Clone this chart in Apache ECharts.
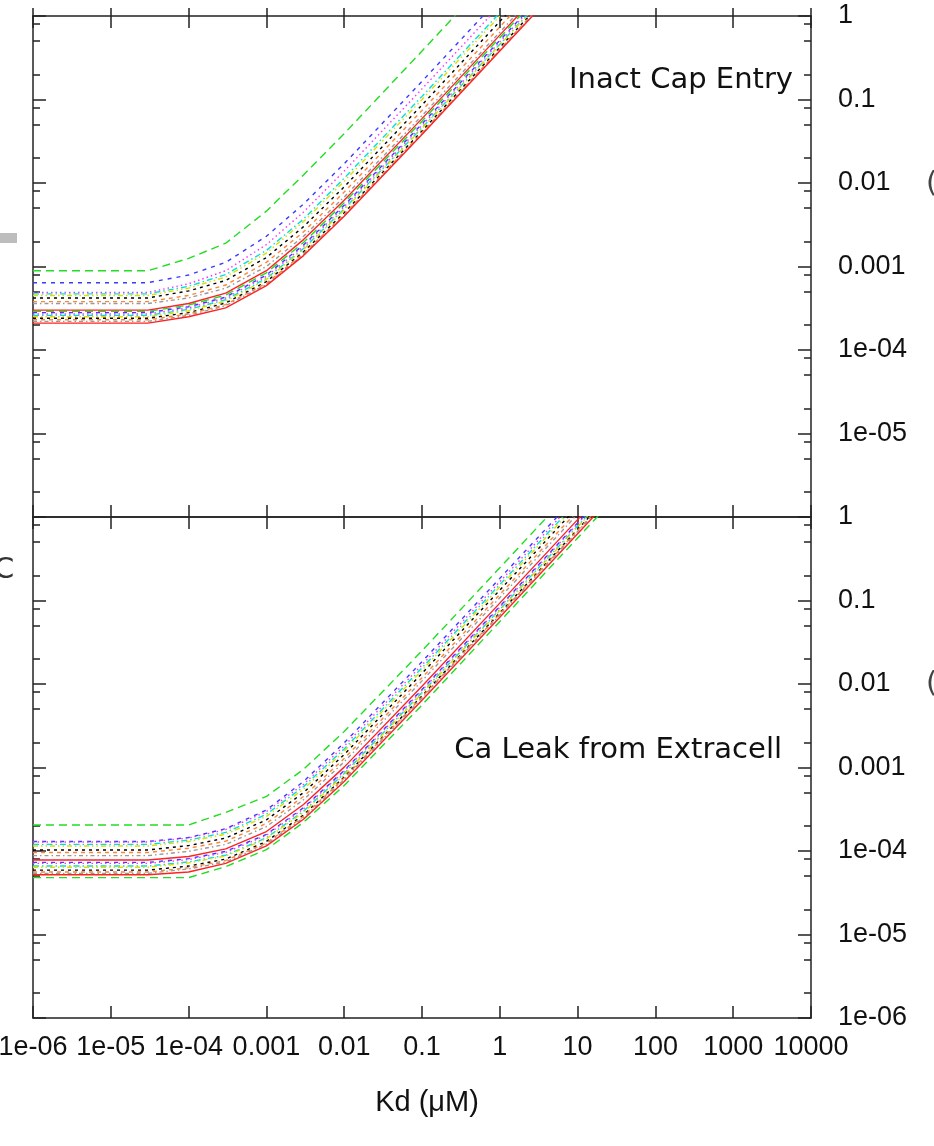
<!DOCTYPE html>
<html>
<head>
<meta charset="utf-8">
<script src="https://cdn.jsdelivr.net/npm/echarts@6/dist/echarts.min.js"></script>
<style>
html,body{margin:0;padding:0;background:#fff;}
#chart{position:absolute;left:0;top:0;width:934px;height:1146px;}
</style>
</head>
<body>
<div id="chart"></div>
<script>
// ---- data ----
const kd = [1e-6, 3e-5, 1e-4, 3e-4, 1e-3, 3e-3, 0.01, 0.1, 1, 10, 100];

const xTickVals = [1e-6, 1e-5, 1e-4, 1e-3, 1e-2, 0.1, 1, 10, 100, 1000, 10000];
const xTickLabels = ['1e-06', '1e-05', '1e-04', '0.001', '0.01', '0.1', '1', '10', '100', '1000', '10000'];
const yTickVals = [1e-6, 1e-5, 1e-4, 1e-3, 1e-2, 0.1, 1];
const yTickLabels = ['1e-06', '1e-05', '1e-04', '0.001', '0.01', '0.1', '1'];
const yMinorVals = [2e-6, 5e-6, 8e-6, 2e-5, 5e-5, 8e-5, 2e-4, 5e-4, 8e-4, 2e-3, 5e-3, 8e-3, 0.02, 0.05, 0.08, 0.2, 0.5, 0.8];

const panelTitles = ['Inact Cap Entry', 'Ca Leak from Extracell'];
const xTitle = 'Kd (\u03bcM)';

// top panel (Inact Cap Entry)
const topGreenA   = [8.9e-4, 8.9e-4, 1.25e-3, 1.9e-3, 4.6e-3, 1.25e-2, 0.039, 0.38, 3.8, 38, 380];
const topBlueA    = [6.4e-4, 6.4e-4, 7.9e-4, 1.12e-3, 2.3e-3, 5.6e-3, 0.017, 0.165, 1.65, 16.5, 165];
const topMagentaA = [4.9e-4, 4.9e-4, 6.2e-4, 8.9e-4, 1.83e-3, 4.5e-3, 0.0139, 0.134, 1.34, 13.4, 134];
const topCyanA    = [4.7e-4, 4.7e-4, 5.8e-4, 8.0e-4, 1.56e-3, 3.7e-3, 0.0114, 0.109, 1.09, 10.9, 109];
const topYellowA  = [4.5e-4, 4.5e-4, 5.5e-4, 7.5e-4, 1.45e-3, 3.45e-3, 0.0105, 0.10, 1.0, 10, 100];
const topBlackA   = [4.2e-4, 4.2e-4, 5.1e-4, 6.8e-4, 1.28e-3, 3.0e-3, 9.0e-3, 0.086, 0.86, 8.6, 86];
const topOrangeA  = [3.8e-4, 3.8e-4, 4.5e-4, 6.0e-4, 1.12e-3, 2.6e-3, 7.8e-3, 0.074, 0.74, 7.4, 74];
const topGreyA    = [3.6e-4, 3.6e-4, 4.2e-4, 5.5e-4, 1.0e-3, 2.3e-3, 6.8e-3, 0.064, 0.64, 6.4, 64];
const topRedA     = [3.0e-4, 3.0e-4, 3.6e-4, 4.8e-4, 8.9e-4, 2.1e-3, 6.2e-3, 0.059, 0.59, 5.9, 59];
const topGreenB   = [2.9e-4, 2.9e-4, 3.45e-4, 4.55e-4, 8.4e-4, 1.94e-3, 5.8e-3, 0.055, 0.55, 5.5, 55];
const topBlueB    = [2.8e-4, 2.8e-4, 3.3e-4, 4.3e-4, 7.9e-4, 1.81e-3, 5.4e-3, 0.051, 0.51, 5.1, 51];
const topMagentaB = [2.7e-4, 2.7e-4, 3.2e-4, 4.2e-4, 7.6e-4, 1.74e-3, 5.2e-3, 0.049, 0.49, 4.9, 49];
const topCyanB    = [2.6e-4, 2.6e-4, 3.06e-4, 4.0e-4, 7.2e-4, 1.64e-3, 4.9e-3, 0.046, 0.46, 4.6, 46];
const topYellowB  = [2.5e-4, 2.5e-4, 2.95e-4, 3.85e-4, 7.0e-4, 1.6e-3, 4.75e-3, 0.045, 0.45, 4.5, 45];
const topBlackB   = [2.4e-4, 2.4e-4, 2.8e-4, 3.66e-4, 6.6e-4, 1.5e-3, 4.4e-3, 0.042, 0.42, 4.2, 42];
const topOrangeB  = [2.3e-4, 2.3e-4, 2.7e-4, 3.5e-4, 6.3e-4, 1.43e-3, 4.2e-3, 0.040, 0.40, 4.0, 40];
const topGreyB    = [2.2e-4, 2.2e-4, 2.6e-4, 3.4e-4, 6.1e-4, 1.39e-3, 4.1e-3, 0.039, 0.39, 3.9, 39];
const topRedB     = [2.1e-4, 2.1e-4, 2.5e-4, 3.2e-4, 5.9e-4, 1.35e-3, 4.0e-3, 0.038, 0.38, 3.8, 38];

// bottom panel (Ca Leak from Extracell)
const botGreenA   = [2.05e-4, 2.05e-4, 2.05e-4, 2.9e-4, 4.5e-4, 9.5e-4, 2.7e-3, 0.025, 0.247, 2.47, 24.7];
const botBlueA    = [1.3e-4, 1.3e-4, 1.45e-4, 1.85e-4, 3.1e-4, 6.8e-4, 1.97e-3, 0.0185, 0.184, 1.84, 18.4];
const botMagentaA = [1.28e-4, 1.28e-4, 1.43e-4, 1.8e-4, 2.96e-4, 6.3e-4, 1.81e-3, 0.0169, 0.168, 1.68, 16.8];
const botCyanA    = [1.2e-4, 1.2e-4, 1.35e-4, 1.67e-4, 2.75e-4, 5.9e-4, 1.67e-3, 0.0156, 0.155, 1.55, 15.5];
const botYellowA  = [1.15e-4, 1.15e-4, 1.3e-4, 1.59e-4, 2.6e-4, 5.5e-4, 1.57e-3, 0.0146, 0.145, 1.45, 14.5];
const botBlackA   = [1.03e-4, 1.03e-4, 1.16e-4, 1.43e-4, 2.36e-4, 5.0e-4, 1.43e-3, 0.0134, 0.133, 1.33, 13.3];
const botOrangeA  = [9.6e-5, 9.6e-5, 1.08e-4, 1.31e-4, 2.14e-4, 4.5e-4, 1.28e-3, 0.0119, 0.118, 1.18, 11.8];
const botGreyA    = [8.8e-5, 8.8e-5, 9.9e-5, 1.2e-4, 1.96e-4, 4.1e-4, 1.17e-3, 0.0109, 0.108, 1.08, 10.8];
const botRedA     = [7.8e-5, 7.8e-5, 8.6e-5, 1.06e-4, 1.71e-4, 3.6e-4, 1.01e-3, 9.4e-3, 0.093, 0.93, 9.3];
const botGreenB   = [4.8e-5, 4.8e-5, 4.8e-5, 6.5e-5, 1.04e-4, 2.2e-4, 6.1e-4, 5.6e-3, 0.056, 0.56, 5.6];
const botBlueB    = [7.3e-5, 7.3e-5, 8.1e-5, 9.9e-5, 1.58e-4, 3.3e-4, 9.2e-4, 8.6e-3, 0.085, 0.85, 8.5];
const botMagentaB = [7.1e-5, 7.1e-5, 7.9e-5, 9.6e-5, 1.54e-4, 3.2e-4, 9.0e-4, 8.4e-3, 0.083, 0.83, 8.3];
const botCyanB    = [6.6e-5, 6.6e-5, 7.4e-5, 8.9e-5, 1.44e-4, 3.0e-4, 8.5e-4, 7.9e-3, 0.078, 0.78, 7.8];
const botYellowB  = [6.4e-5, 6.4e-5, 7.2e-5, 8.7e-5, 1.4e-4, 2.9e-4, 8.2e-4, 7.7e-3, 0.076, 0.76, 7.6];
const botBlackB   = [5.9e-5, 5.9e-5, 6.6e-5, 8.0e-5, 1.3e-4, 2.7e-4, 7.7e-4, 7.2e-3, 0.071, 0.71, 7.1];
const botOrangeB  = [5.6e-5, 5.6e-5, 6.3e-5, 7.7e-5, 1.25e-4, 2.6e-4, 7.5e-4, 7.0e-3, 0.069, 0.69, 6.9];
const botGreyB    = [5.4e-5, 5.4e-5, 6.1e-5, 7.4e-5, 1.21e-4, 2.5e-4, 7.2e-4, 6.8e-3, 0.067, 0.67, 6.7];
const botRedB     = [5.2e-5, 5.2e-5, 5.6e-5, 7.1e-5, 1.15e-4, 2.4e-4, 6.8e-4, 6.4e-3, 0.063, 0.63, 6.3];

// ---- styles (separate from data) ----
const ST = {
  red:     {c: '#ff2222', d: 'solid'},
  green:   {c: '#22dd22', d: [8, 5]},
  blue:    {c: '#3b3bff', d: [4, 5]},
  magenta: {c: '#ff30ff', d: [1.5, 3]},
  cyan:    {c: '#00e0e0', d: [6, 3, 1.5, 3]},
  yellow:  {c: '#dede00', d: [5, 3, 1.5, 3, 1.5, 3]},
  black:   {c: '#000000', d: [3, 4]},
  orange:  {c: '#ff8533', d: [4, 4]},
  grey:    {c: '#999999', d: [4, 3, 1.5, 3]}
};
const LINE_W = 1.4;

const topSet = [
  [topGreenA, 'green'], [topBlueA, 'blue'], [topMagentaA, 'magenta'], [topCyanA, 'cyan'],
  [topYellowA, 'yellow'], [topBlackA, 'black'], [topOrangeA, 'orange'], [topGreyA, 'grey'],
  [topGreenB, 'green'], [topBlueB, 'blue'], [topMagentaB, 'magenta'], [topCyanB, 'cyan'],
  [topYellowB, 'yellow'], [topBlackB, 'black'], [topOrangeB, 'orange'], [topGreyB, 'grey'],
  [topRedA, 'red'], [topRedB, 'red']
];
const botSet = [
  [botGreenA, 'green'], [botBlueA, 'blue'], [botMagentaA, 'magenta'], [botCyanA, 'cyan'],
  [botYellowA, 'yellow'], [botBlackA, 'black'], [botOrangeA, 'orange'], [botGreyA, 'grey'],
  [botGreenB, 'green'], [botBlueB, 'blue'], [botMagentaB, 'magenta'], [botCyanB, 'cyan'],
  [botYellowB, 'yellow'], [botBlackB, 'black'], [botOrangeB, 'orange'], [botGreyB, 'grey'],
  [botRedA, 'red'], [botRedB, 'red']
];

function mkSeries(vals, key, xi, yi) {
  const s = ST[key];
  return {
    type: 'line', xAxisIndex: xi, yAxisIndex: yi,
    data: kd.map((k, i) => [k, vals[i]]),
    showSymbol: false, symbol: 'none', clip: true, silent: true,
    lineStyle: {color: s.c, width: LINE_W, type: s.d},
    z: key === 'red' ? 3 : 2
  };
}

function fmt(vals, labels) {
  return function (v) {
    for (let i = 0; i < vals.length; i++) {
      if (Math.abs(Math.log10(v) - Math.log10(vals[i])) < 1e-6) return labels[i];
    }
    return '';
  };
}

const AX = '#222';
const LBL = {fontFamily: 'Liberation Sans', fontSize: 27, color: '#111'};

function xAx(grid, pos, opts) {
  return Object.assign({
    type: 'log', logBase: 10, gridIndex: grid, position: pos, min: 1e-6, max: 1e4,
    axisLine: {show: true, onZero: false, lineStyle: {color: AX, width: 1.5}},
    axisTick: {show: true, inside: true, length: 12, customValues: xTickVals, lineStyle: {color: AX, width: 1.5}},
    axisLabel: {show: false},
    splitLine: {show: false}, minorTick: {show: false}
  }, opts || {});
}
function yAx(grid, pos, ticks, len, showLine, labels) {
  return {
    type: 'log', logBase: 10, gridIndex: grid, position: pos, min: 1e-6, max: 1,
    axisLine: {show: showLine, onZero: false, lineStyle: {color: AX, width: 1.5}},
    axisTick: {show: true, inside: true, length: len, customValues: ticks, lineStyle: {color: AX, width: 1.5}},
    axisLabel: labels ? Object.assign({show: true, customValues: labels, margin: 27, formatter: fmt(yTickVals, yTickLabels)}, LBL) : {show: false},
    splitLine: {show: false}, minorTick: {show: false}
  };
}

const series = [];
topSet.forEach(([v, k]) => series.push(mkSeries(v, k, 0, 0)));
botSet.forEach(([v, k]) => series.push(mkSeries(v, k, 3, 4)));

const option = {
  animation: false,
  backgroundColor: '#fff',
  grid: [
    {left: 33, top: 16, width: 778, height: 501, containLabel: false, outerBoundsMode: 'none'},
    {left: 33, top: 517, width: 778, height: 501, containLabel: false, outerBoundsMode: 'none'}
  ],
  xAxis: [
    xAx(0, 'bottom'),
    xAx(0, 'top'),
    xAx(0, 'top', {axisLine: {show: false}, axisTick: {show: true, inside: false, length: 8, customValues: xTickVals, lineStyle: {color: AX, width: 1.5}}}),
    xAx(1, 'bottom', {
      axisLabel: Object.assign({show: true, customValues: xTickVals, margin: 16, formatter: fmt(xTickVals, xTickLabels)}, LBL),
      name: xTitle, nameLocation: 'middle', nameGap: 70,
      nameTextStyle: {fontFamily: 'Liberation Sans', fontSize: 29, color: '#111', padding: [0, 0, 0, 10]}
    }),
    xAx(1, 'top')
  ],
  yAxis: [
    yAx(0, 'left', yTickVals, 13, true, null),
    yAx(0, 'right', yTickVals, 13, true, yTickVals.slice(1)),
    yAx(0, 'left', yMinorVals, 7, false, null),
    yAx(0, 'right', yMinorVals, 7, false, null),
    yAx(1, 'left', yTickVals, 13, true, null),
    yAx(1, 'right', yTickVals, 13, true, yTickVals),
    yAx(1, 'left', yMinorVals, 7, false, null),
    yAx(1, 'right', yMinorVals, 7, false, null)
  ],
  graphic: [
    {type: 'text', right: 141, top: 66, z: 10, style: {text: panelTitles[0], font: '29px "DejaVu Sans"', fill: '#111'}},
    {type: 'text', right: 152, top: 736, z: 10, style: {text: panelTitles[1], font: '29px "DejaVu Sans"', fill: '#111'}},
    {type: 'rect', left: 0, top: 233, shape: {width: 17, height: 10}, style: {fill: '#bdbdbd'}},
    {type: 'text', left: -6, top: 556, style: {text: 'C', font: '29px "DejaVu Sans"', fill: '#333'}},
    {type: 'text', left: 926, top: 170, style: {text: '(', font: '29px "DejaVu Sans"', fill: '#444'}},
    {type: 'text', left: 926, top: 670, style: {text: '(', font: '29px "DejaVu Sans"', fill: '#444'}}
  ],
  series: series
};

const chart = echarts.init(document.getElementById('chart'), null, {renderer: 'canvas'});
chart.setOption(option);
</script>
</body>
</html>
